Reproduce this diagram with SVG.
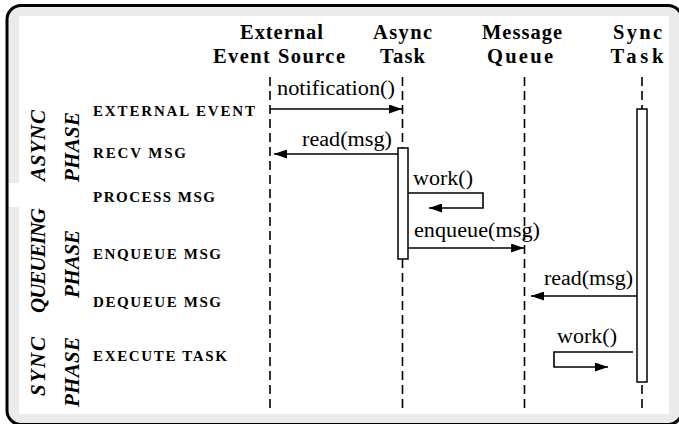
<svg xmlns="http://www.w3.org/2000/svg" width="679" height="424" viewBox="0 0 679 424">
<style>
.hdr{font-family:"Liberation Serif","Times New Roman",serif;font-weight:bold;font-size:20.5px;text-anchor:middle;fill:#000}
.row{font-family:"Liberation Serif","Times New Roman",serif;font-weight:bold;font-size:15px;fill:#000}
.ph{font-family:"Liberation Serif","Times New Roman",serif;font-weight:bold;font-style:italic;font-size:21px;text-anchor:middle;fill:#000}
.msg{font-family:"Liberation Serif","Times New Roman",serif;font-size:20.5px;fill:#000}
.life{stroke:#000;stroke-width:1.6;stroke-dasharray:9 5;fill:none}
.act{fill:#fff;stroke:#000;stroke-width:1.5}
.arr{stroke:#000;stroke-width:1.6;fill:none;marker-end:url(#ah)}
</style>
<defs>
<marker id="ah" markerWidth="13" markerHeight="9" refX="13" refY="4.5" orient="auto" markerUnits="userSpaceOnUse"><path d="M0,0 L13,4.5 L0,9 z" fill="#000"/></marker>
</defs>
<g id="frame">
<rect x="7" y="5.5" width="675" height="419" rx="14" ry="14" fill="#ebebeb" stroke="#000" stroke-width="3"/>
<rect x="19" y="16" width="650" height="398" fill="#fff"/>
<rect x="9" y="183" width="10" height="24" fill="#fff"/>
</g>
<g id="phases">
<text class="ph" transform="translate(45,145.5) rotate(-90)" textLength="71" lengthAdjust="spacing">ASYNC</text>
<text class="ph" transform="translate(79,147) rotate(-90)" textLength="70" lengthAdjust="spacing">PHASE</text>
<text class="ph" transform="translate(45,260.5) rotate(-90)" textLength="105" lengthAdjust="spacing">QUEUEING</text>
<text class="ph" transform="translate(79,264) rotate(-90)" textLength="68" lengthAdjust="spacing">PHASE</text>
<text class="ph" transform="translate(45,366.5) rotate(-90)" textLength="59" lengthAdjust="spacing">SYNC</text>
<text class="ph" transform="translate(79,372) rotate(-90)" textLength="70" lengthAdjust="spacing">PHASE</text>
</g>
<g id="rows">
<text class="row" x="93" y="116" textLength="162" lengthAdjust="spacing">EXTERNAL EVENT</text>
<text class="row" x="93" y="158" textLength="93" lengthAdjust="spacing">RECV MSG</text>
<text class="row" x="93" y="202" textLength="122" lengthAdjust="spacing">PROCESS MSG</text>
<text class="row" x="93" y="259" textLength="128" lengthAdjust="spacing">ENQUEUE MSG</text>
<text class="row" x="93" y="307" textLength="128" lengthAdjust="spacing">DEQUEUE MSG</text>
<text class="row" x="93" y="361" textLength="134" lengthAdjust="spacing">EXECUTE TASK</text>
</g>
<g id="ext-source">
<text class="hdr" x="281.5" y="39" textLength="83" lengthAdjust="spacing">External</text>
<text class="hdr" x="279" y="63" textLength="132" lengthAdjust="spacing">Event Source</text>
<line class="life" x1="270" y1="77" x2="270" y2="410"/>
</g>
<g id="async-task">
<text class="hdr" x="402.5" y="39" textLength="59" lengthAdjust="spacing">Async</text>
<text class="hdr" x="402.5" y="63" textLength="45" lengthAdjust="spacing">Task</text>
<line class="life" x1="402.5" y1="77" x2="402.5" y2="410"/>
<rect class="act" x="398" y="148" width="10" height="111"/>
</g>
<g id="message-queue">
<text class="hdr" x="522" y="39" textLength="80" lengthAdjust="spacing">Message</text>
<text class="hdr" x="520" y="63" textLength="66" lengthAdjust="spacing">Queue</text>
<line class="life" x1="524.5" y1="77" x2="524.5" y2="410"/>
</g>
<g id="sync-task">
<text class="hdr" x="637.5" y="39" textLength="49" lengthAdjust="spacing">Sync</text>
<text class="hdr" x="637" y="63" textLength="53" lengthAdjust="spacing">Task</text>
<line class="life" x1="642" y1="77" x2="642" y2="410"/>
<rect class="act" x="637" y="109" width="10" height="273"/>
</g>
<g id="connectors">
<line class="arr" x1="270" y1="109" x2="402" y2="109"/>
<text class="msg" x="277" y="95" textLength="118" lengthAdjust="spacingAndGlyphs">notification()</text>
<line class="arr" x1="398" y1="154" x2="274" y2="154"/>
<text class="msg" x="302" y="146" textLength="90" lengthAdjust="spacingAndGlyphs">read(msg)</text>
<polyline class="arr" points="408,193 483,193 483,208 429,208"/>
<text class="msg" x="413" y="185" textLength="60" lengthAdjust="spacingAndGlyphs">work()</text>
<line class="arr" x1="408" y1="248" x2="524" y2="248"/>
<text class="msg" x="414" y="237" textLength="126" lengthAdjust="spacingAndGlyphs">enqueue(msg)</text>
<line class="arr" x1="637" y1="296" x2="531" y2="296"/>
<text class="msg" x="544" y="285" textLength="89" lengthAdjust="spacingAndGlyphs">read(msg)</text>
<polyline class="arr" points="633,352 554,352 554,367 608,367"/>
<text class="msg" x="557" y="343" textLength="60" lengthAdjust="spacingAndGlyphs">work()</text>
</g>
</svg>
